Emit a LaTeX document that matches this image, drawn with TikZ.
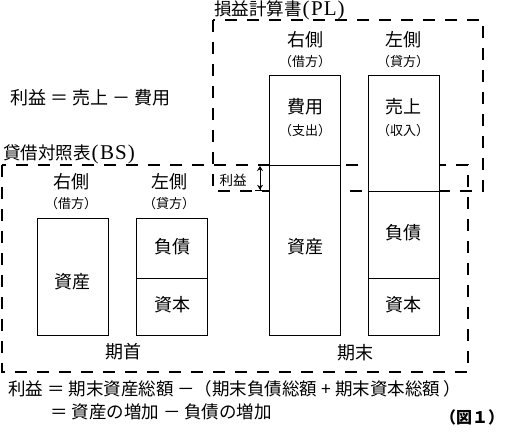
\documentclass[tikz,border=0pt]{standalone}
\usepackage{fontspec}
\setmainfont{Liberation Serif}
\newfontfamily\cjk{Noto Sans CJK JP}
\usetikzlibrary{arrows.meta}
\newcommand{\ttlcjk}[1]{{\cjk\fontsize{17.5}{19}\selectfont #1}}
\begin{document}
\begin{tikzpicture}[x=1pt,y=-1pt,
  dashbox/.style={draw, line width=2.3pt, dash pattern=on 12pt off 10pt},
  cell/.style={draw, line width=0.8pt, fill=white},
  big/.style={font=\cjk\fontsize{18}{20}\selectfont, inner sep=0pt},
  small/.style={font=\cjk\fontsize{13}{15}\selectfont, inner sep=0pt},
  title/.style={font=\fontsize{21}{23}\selectfont, inner sep=0pt, anchor=west},
  formula/.style={font=\cjk\fontsize{17.5}{20}\selectfont, inner sep=0pt, anchor=west},
  dim/.style={line width=0.9pt, {Stealth[length=5pt,width=6pt]}-{Stealth[length=5pt,width=6pt]Bar[width=10pt,line width=1.2pt]}}]
\useasboundingbox (0,0) rectangle (516,444);
% dashed frames
\draw[dashbox] (213,20) rectangle (483,191);
\draw[dashbox] (2,165) rectangle (468,372);
% balance sheet (start of period)
\draw[cell] (37,218) rectangle (108,335);
\draw[cell] (136,218) rectangle (207,278);
\draw[cell] (136,278) rectangle (207,335);
% end of period / profit and loss
\draw[cell] (269,75) rectangle (340,165);
\draw[cell] (269,165) rectangle (340,335);
\draw[cell] (368,75) rectangle (439,191);
\draw[cell] (368,191) rectangle (439,278);
\draw[cell] (368,278) rectangle (439,335);
% titles
\node[title] (pltitle) at (214,10) {\ttlcjk{損益計算書}\hspace{1pt}(\hspace{1.5pt}P\hspace{1pt}L\hspace{1pt})};
\node[title] (bstitle) at (3,154) {\ttlcjk{貸借対照表}\hspace{1pt}(\hspace{1.5pt}B\hspace{1pt}S\hspace{1pt})};
\node[formula, font=\cjk\fontsize{18}{20}\selectfont] (f0) at (10,98) {利益 ＝ 売上 － 費用};
% headers PL
\node[big] (plr) at (305,40) {右側};
\node[small] (plrs) at (305,62) {（借方）};
\node[big] (pll) at (403,40) {左側};
\node[small] (plls) at (403,62) {（貸方）};
% headers BS
\node[big] (bsr) at (71,182) {右側};
\node[small] (bsrs) at (71,204) {（借方）};
\node[big] (bsl) at (169,182) {左側};
\node[small] (bsls) at (169,204) {（貸方）};
% cell labels
\node[big] (hiyo) at (305,107) {費用};
\node[small] (shishutsu) at (305,131) {（支出）};
\node[big] (uriage) at (403,107) {売上};
\node[small] (shunyu) at (403,131) {（収入）};
\node[big] (shisan2) at (305,247) {資産};
\node[big] (fusai2) at (403,233) {負債};
\node[big] (shihon2) at (403,305) {資本};
\node[big] (shisan1) at (72,282) {資産};
\node[big] (fusai1) at (172,247) {負債};
\node[big] (shihon1) at (172,305) {資本};
\node[big] (kisho) at (123,352) {期首};
\node[big] (kimatsu) at (355,353) {期末};
% profit marker
\node[small, font=\cjk\fontsize{13.5}{15}\selectfont] (rieki) at (233,180) {利益};
\coordinate (dt) at (260,166);
\coordinate (db) at (260,191);
\draw[dim] (dt) -- (db);
% formulas
\node[formula] (f1) at (8,389) {利益 ＝ 期末資産総額 －（期末負債総額 + 期末資本総額 ）};
\node[formula] (f2) at (50,412) {＝ 資産の増加 － 負債の増加};
\node[font=\cjk\bfseries\fontsize{16}{18}\selectfont, inner sep=0pt] (fig) at (472,417) {（図１）};
\end{tikzpicture}
\end{document}
